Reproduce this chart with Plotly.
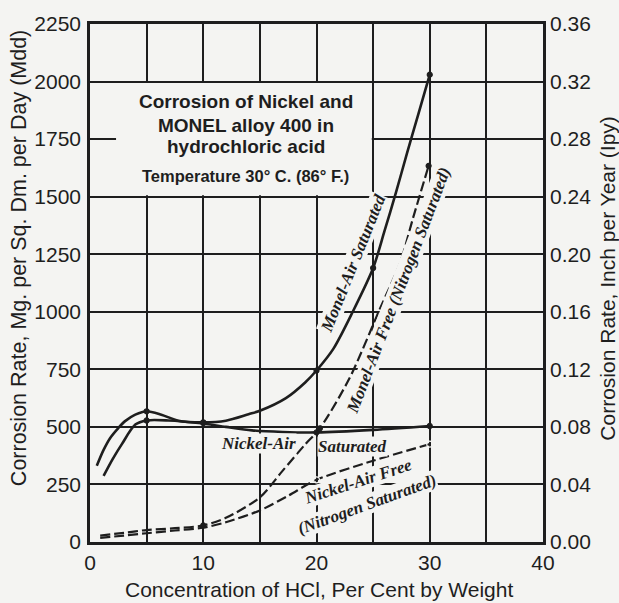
import plotly.graph_objects as go

# ---------------- data ----------------
monel_air_sat_x = [0.6, 1.2, 1.8, 2.5, 3.1, 4.0, 5.0, 6.3, 7.8, 10, 12, 14, 15, 17.3, 19, 20, 21.5, 23.2, 25, 26, 27, 28, 29, 30]
monel_air_sat_y = [331, 400, 453, 495, 525, 553, 568, 553, 527, 520, 527, 555, 570, 625, 693, 745, 840, 1000, 1190, 1350, 1515, 1690, 1860, 2030]

monel_air_free_x = [0.9, 3, 5, 7.5, 10, 12, 15, 17, 19, 20.3, 22.9, 25.6, 27.4, 28.5, 29.9]
monel_air_free_y = [28, 40, 52, 60, 72, 105, 194, 309, 424, 494, 710, 1013, 1215, 1403, 1634]

nickel_air_sat_x = [1.2, 2, 2.8, 4, 5, 6.9, 9.6, 12, 14.3, 17, 20, 25, 30]
nickel_air_sat_y = [287, 360, 424, 510, 528, 528, 517, 500, 485, 478, 476, 487, 504]

nickel_air_free_x = [0.9, 3, 5, 7.5, 10, 12, 15, 17.5, 20, 25, 30]
nickel_air_free_y = [18, 28, 38, 50, 62, 86, 137, 201, 270, 353, 425]

# measured points (small markers)
monel_sat_pts_x = [5, 10, 20, 25, 30]
monel_sat_pts_y = [568, 520, 745, 1190, 2030]
nickel_sat_pts_x = [5, 10, 20, 30]
nickel_sat_pts_y = [528, 517, 476, 504]
monel_free_pts_x = [10, 20.3, 29.9]
monel_free_pts_y = [72, 494, 1634]
nickel_free_pts_x = [20, 30]
nickel_free_pts_y = [270, 425]

x_tickvals = [0, 5, 10, 15, 20, 25, 30, 35, 40]
x_ticktext = ["0", "", "10", "", "20", "", "30", "", "40"]
y_tickvals = [0, 250, 500, 750, 1000, 1250, 1500, 1750, 2000, 2250]
y2_tickvals = [0, 0.04, 0.08, 0.12, 0.16, 0.20, 0.24, 0.28, 0.32, 0.36]

# ---------------- style ----------------
INK = "#1e1e1e"
BG = "#f4f4f2"
SANS = "Liberation Sans, Arial, sans-serif"
SERIF = "Liberation Serif, Times New Roman, serif"

fig = go.Figure()

def curve(x, y, dash):
    fig.add_trace(go.Scatter(x=x, y=y, mode="lines",
                             line=dict(color=INK, width=2.6 if dash == "solid" else 2.2,
                                       dash=dash, shape="spline", smoothing=0.8),
                             showlegend=False, hoverinfo="skip"))

curve(monel_air_sat_x, monel_air_sat_y, "solid")
curve(nickel_air_sat_x, nickel_air_sat_y, "solid")
curve(monel_air_free_x, monel_air_free_y, "10px,4px")
curve(nickel_air_free_x, nickel_air_free_y, "10px,4px")

def pts(x, y, symbol="circle", size=5):
    fig.add_trace(go.Scatter(x=x, y=y, mode="markers",
                             marker=dict(color=INK if symbol == "circle" else BG, size=size, symbol=symbol,
                                         line=dict(color=INK, width=1.2)),
                             showlegend=False, hoverinfo="skip"))

pts(monel_sat_pts_x, monel_sat_pts_y)
pts(nickel_sat_pts_x, nickel_sat_pts_y)
pts(monel_free_pts_x, monel_free_pts_y)
pts(nickel_free_pts_x, nickel_free_pts_y, symbol="circle-open", size=6)

# helper for the right axis
fig.add_trace(go.Scatter(x=[], y=[], yaxis="y2", showlegend=False))

# title box interrupting the grid
fig.add_shape(type="rect", xref="x", yref="y", x0=2.3, x1=24.88, y0=1506, y1=1994,
              fillcolor=BG, line=dict(width=0), layer="between")

ann = []
def lab(text, x, y, angle=0, size=17, family=SERIF, italic=True, bold=True, bg=BG, xref="x", yref="y"):
    t = text
    if bold:
        t = "<b>" + t + "</b>"
    if italic:
        t = "<i>" + t + "</i>"
    ann.append(dict(text=t, x=x, y=y, xref=xref, yref=yref, showarrow=False,
                    textangle=angle, xanchor="center", yanchor="middle",
                    font=dict(family=family, size=size, color=INK),
                    bgcolor=bg, borderpad=0))

lab("Nickel-Air", 14.92, 427)
lab("Saturated", 23.18, 414)
lab("Nickel-Air Free", 23.66, 261, angle=-18)
lab("(Nitrogen Saturated)", 24.43, 164, angle=-20)
lab("Monel-Air Saturated", 23.25, 1208, angle=-68)
lab("Monel-Air Free (Nitrogen Saturated)", 27.22, 1094, angle=-69)

lab("Corrosion of Nickel and", 13.77, 1914, size=19, family=SANS, italic=False, bg=None)
lab("MONEL alloy 400 in", 13.77, 1810, size=19, family=SANS, italic=False, bg=None)
lab("hydrochloric acid", 13.77, 1720, size=19, family=SANS, italic=False, bg=None)
lab("Temperature 30° C. (86° F.)", 13.77, 1591, size=16.5, family=SANS, italic=False, bg=None)

lab("Corrosion Rate, Mg. per Sq. Dm. per Day (Mdd)", -0.1567, 0.548, angle=-90, size=21.5,
    family=SANS, italic=False, bold=False, bg=None, xref="paper", yref="paper")
lab("Corrosion Rate, Inch per Year (Ipy)", 1.1415, 0.5086, angle=-90, size=21,
    family=SANS, italic=False, bold=False, bg=None, xref="paper", yref="paper")
lab("Concentration of HCl, Per Cent by Weight", 0.5055, -0.092, size=21,
    family=SANS, italic=False, bold=False, bg=None, xref="paper", yref="paper")

fig.update_layout(
    width=619, height=603,
    margin=dict(l=90, r=76, t=20, b=61),
    paper_bgcolor=BG, plot_bgcolor=BG,
    annotations=ann,
    xaxis=dict(range=[0, 40], tickvals=x_tickvals, ticktext=x_ticktext,
               showgrid=True, gridcolor=INK, gridwidth=2, zeroline=False,
               showline=True, linecolor=INK, linewidth=2.6, mirror=True,
               ticks="", ticklabelstandoff=0,
               tickfont=dict(family=SANS, size=21, color=INK)),
    yaxis=dict(range=[0, 2250], tickvals=y_tickvals,
               showgrid=True, gridcolor=INK, gridwidth=2, zeroline=False,
               showline=True, linecolor=INK, linewidth=2.6, mirror=True,
               ticks="", ticklabelstandoff=2,
               tickfont=dict(family=SANS, size=21, color=INK)),
    yaxis2=dict(range=[0, 0.36], tickvals=y2_tickvals, tickformat=".2f",
                overlaying="y", side="right", showgrid=False, zeroline=False,
                ticks="", ticklabelstandoff=6,
                tickfont=dict(family=SANS, size=21, color=INK)),
)

fig.write_html("out.html")
